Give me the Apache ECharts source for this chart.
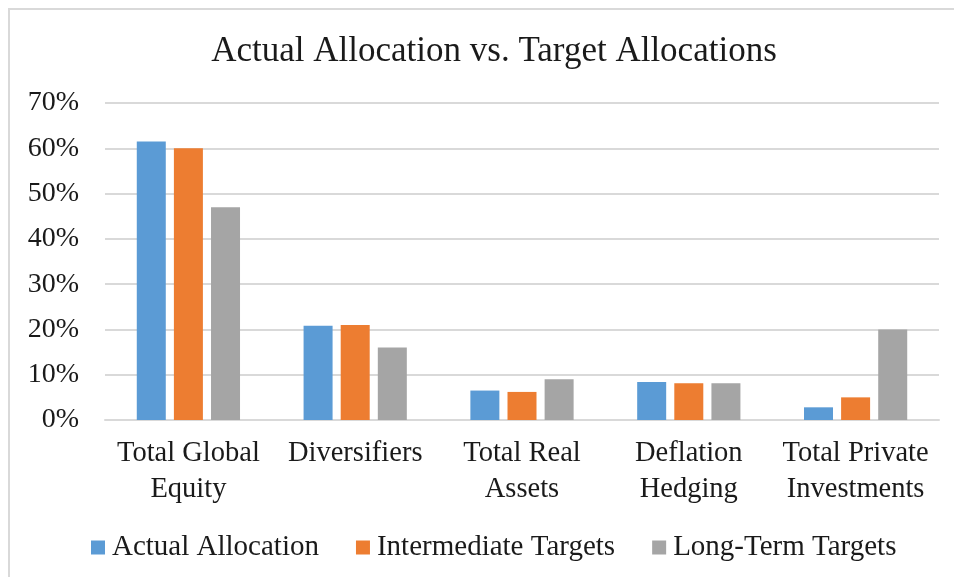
<!DOCTYPE html>
<html>
<head>
<meta charset="utf-8">
<script src="https://cdn.jsdelivr.net/npm/echarts@6/dist/echarts.min.js"></script>
<style>
html,body{margin:0;padding:0;background:#fff;}
#chart{width:954px;height:577px;}
</style>
</head>
<body>
<div id="chart"></div>
<script>
const categories = ['Total Global\nEquity', 'Diversifiers', 'Total Real\nAssets', 'Deflation\nHedging', 'Total Private\nInvestments'];
const seriesNames = ['Actual Allocation', 'Intermediate Targets', 'Long-Term Targets'];
const actualAllocation = [61.5, 20.8, 6.5, 8.4, 2.8];
const intermediateTargets = [60, 21, 6.2, 8.1, 5];
const longTermTargets = [47, 16, 9, 8.1, 20];
const yTicks = [0, 10, 20, 30, 40, 50, 60, 70];

const colors = ['#5b9bd5', '#ed7d31', '#a5a5a5'];
const font = '"Liberation Serif", "Times New Roman", serif';
const textColor = '#1a1a1a';

const chart = echarts.init(document.getElementById('chart'));
const dataSets = [actualAllocation, intermediateTargets, longTermTargets];

chart.setOption({
  animation: false,
  backgroundColor: '#fff',
  graphic: [{
    type: 'rect',
    shape: {x: 9, y: 9, width: 1200, height: 1200},
    style: {fill: 'none', stroke: '#d9d9d9', lineWidth: 2},
    silent: true
  }],
  title: {
    text: 'Actual Allocation vs. Target Allocations',
    left: 489, textAlign: 'center', top: 29,
    textStyle: {fontFamily: font, fontSize: 35, fontWeight: 'normal', color: textColor}
  },
  legend: {
    data: seriesNames,
    left: 86, top: 528,
    itemWidth: 14, itemHeight: 14, itemGap: 37,
    icon: 'rect',
    textStyle: {fontFamily: font, fontSize: 29, color: textColor, padding: [0,0,0,2]}
  },
  grid: {left: 105, right: 15, top: 103, bottom: 157, containLabel: false},
  xAxis: {
    type: 'category',
    data: categories,
    axisLine: {lineStyle: {color: '#d9d9d9', width: 2}},
    axisTick: {show: false},
    axisLabel: {fontFamily: font, fontSize: 28.5, color: textColor, lineHeight: 36, margin: 16, interval: 0}
  },
  yAxis: {
    type: 'value',
    min: yTicks[0], max: yTicks[yTicks.length - 1], interval: 10,
    axisLine: {show: false},
    axisTick: {show: false},
    splitLine: {lineStyle: {color: '#d9d9d9', width: 2}},
    axisLabel: {fontFamily: font, fontSize: 28, color: textColor, margin: 26, formatter: '{value}%'}
  },
  series: seriesNames.map((name, i) => ({
    name: name,
    type: 'bar',
    data: dataSets[i],
    barWidth: 29,
    barGap: '28%',
    itemStyle: {color: colors[i]}
  }))
});
</script>
</body>
</html>
